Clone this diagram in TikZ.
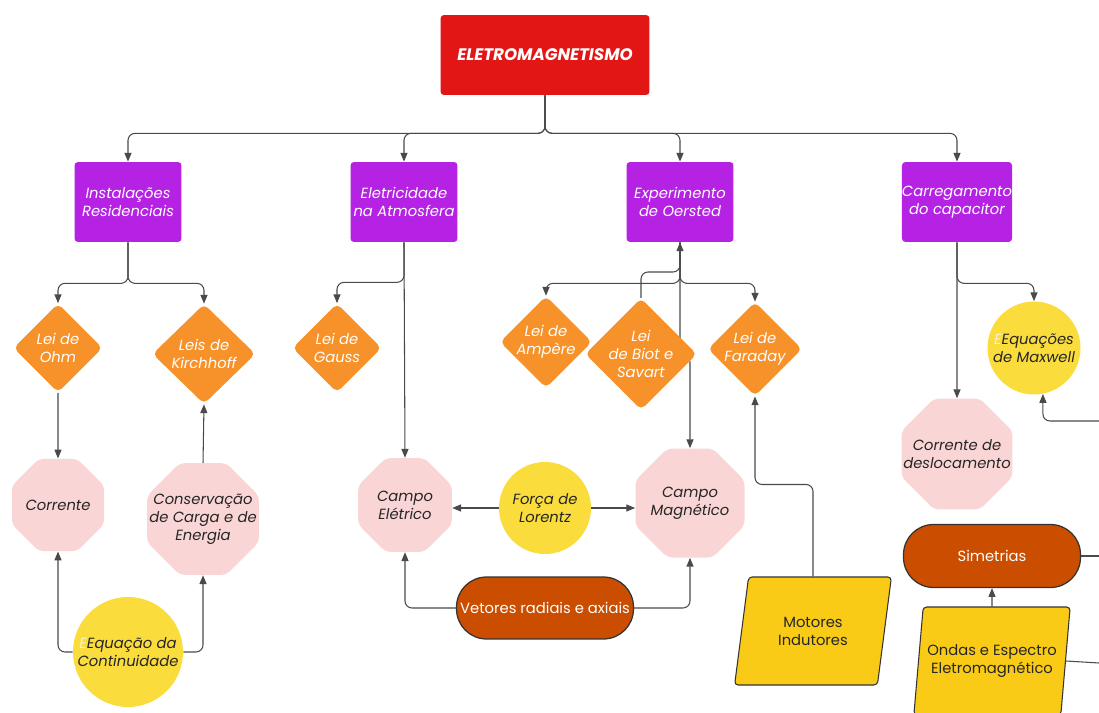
\documentclass[tikz,border=0pt]{standalone}
\usepackage{fontspec}
\setmainfont{Poppins}
\usepackage{xcolor}
\usetikzlibrary{shapes.geometric,shapes.misc,arrows.meta,backgrounds}

\definecolor{rootred}{HTML}{E31616}
\definecolor{topicpurple}{HTML}{B522E4}
\definecolor{laworange}{HTML}{F7922A}
\definecolor{fieldpink}{HTML}{FAD5D6}
\definecolor{eqyellow}{HTML}{FADC3C}
\definecolor{pillrust}{HTML}{CB4D00}
\definecolor{appyellow}{HTML}{F9CB17}
\definecolor{linegray}{HTML}{4A4A4A}
\definecolor{ghostE}{HTML}{FBF3C8}

\tikzset{
  base/.style={inner sep=0pt, align=center, font=\fontsize{8.4}{10.2}\selectfont\itshape},
  rootbox/.style={base, rectangle, rounded corners=2pt, fill=rootred, text=white,
    minimum width=4.18cm, minimum height=1.6cm, font=\fontsize{9.5}{11}\selectfont\bfseries\itshape},
  topicbox/.style={base, rectangle, rounded corners=2pt, fill=topicpurple, text=white,
    minimum width=2.14cm, minimum height=1.6cm},
  lawdiam/.style={base, diamond, rounded corners=3pt, fill=laworange, text=white},
  fieldoct/.style={base, regular polygon, regular polygon sides=8, rounded corners=3pt,
    inner sep=-1cm, fill=fieldpink, text=black!85},
  eqcirc/.style={base, circle, fill=eqyellow, text=black!85},
  vecpill/.style={base, rectangle, rounded corners=0.6cm, fill=pillrust, draw=black!80,
    line width=0.7pt, text=white, minimum width=3.54cm, minimum height=1.24cm,
    font=\fontsize{8.4}{10.2}\selectfont},
  appbox/.style={base, trapezium, trapezium left angle=75, trapezium right angle=105,
    trapezium stretches=true, rounded corners=2pt, fill=appyellow, draw=black!80,
    line width=0.6pt, text=black!85, minimum width=3.14cm, minimum height=2.16cm,
    font=\fontsize{8.4}{10.2}\selectfont},
  conn/.style={draw=linegray, line width=0.6pt, rounded corners=4pt,
    -{Triangle[length=5pt,width=4pt]}},
  link/.style={draw=linegray, line width=0.6pt, rounded corners=4pt},
}

\begin{document}
\begin{tikzpicture}[x=0.02cm, y=-0.02cm]
\useasboundingbox (0,0) rectangle (1099,713);
\clip (0,0) rectangle (1099,713);

% topo e temas
\node[rootbox] (eletro) at (545,55) {ELETROMAGNETISMO};
\node[topicbox] (instal) at (128,202) {Instalações\\Residenciais};
\node[topicbox] (atmos) at (404,202) {Eletricidade\\na Atmosfera};
\node[topicbox] (oersted) at (680,202) {Experimento\\de Oersted};
\node[topicbox] (capac) at (957,202) {Carregamento\\do capacitor};

% leis
\node[lawdiam, minimum width=1.78cm, minimum height=1.78cm] (ohm) at (58,348) {Lei de\\Ohm};
\node[lawdiam, minimum width=2.06cm, minimum height=2.0cm] (kirch) at (204,354) {Leis de\\Kirchhoff};
\node[lawdiam, minimum width=1.78cm, minimum height=1.78cm] (gauss) at (337,348) {Lei de\\Gauss};
\node[lawdiam, minimum width=1.76cm, minimum height=1.78cm] (ampere) at (546,342) {Lei de\\Ampère};
\node[lawdiam, minimum width=2.12cm, minimum height=2.0cm] (biot) at (641,354) {Lei\\de Biot e\\Savart};
\node[lawdiam, minimum width=1.78cm, minimum height=1.8cm] (faraday) at (755,349) {Lei de\\Faraday};

% grandezas
\node[fieldoct, minimum size=2.0cm] (corrente) at (58,505) {Corrente};
\node[fieldoct, minimum size=2.42cm] (conserv) at (203,519) {Conservação\\de Carga e de\\Energia};
\node[fieldoct, minimum size=2.03cm] (campoE) at (405,505) {Campo\\Elétrico};
\node[fieldoct, minimum size=2.36cm] (campoM) at (690,503) {Campo\\Magnético};
\node[fieldoct, minimum size=2.4cm] (desloc) at (957,454) {Corrente de\\deslocamento};

% equacoes
\node[eqcirc, minimum size=2.2cm] (contin) at (128,652) {{\color{ghostE}E}Equação da\\Continuidade};
\node[eqcirc, minimum size=1.84cm] (lorentz) at (545,508) {Força de\\Lorentz};
\node[eqcirc, minimum size=1.86cm] (maxwell) at (1034,348) {{\color{ghostE}E}Equações\\de Maxwell};

% pilulas e aplicacoes
\node[vecpill] (vetores) at (545,608) {Vetores radiais e axiais};
\node[vecpill, minimum height=1.26cm] (simetrias) at (992,556) {Simetrias};
\node[appbox] (motores) at (813,631) {Motores\\Indutores};
\node[appbox] (ondas) at (992,661) {Ondas e Espectro\\Eletromagnético};

\coordinate (jbiot) at (680,272);
\coordinate (offA) at (1099,421);
\coordinate (offB) at (1099,556);
\coordinate (offC) at (1099,663);

\begin{scope}[on background layer]
\foreach \t in {instal,atmos,oersted,capac}
  \draw[conn] (eletro.south) -- ++(0,38) -| (\t.north);
\draw[conn] (instal.south) -- ++(0,41) -| (ohm.north);
\draw[conn] (instal.south) -- ++(0,41) -| (kirch.north);
\draw[conn] (atmos.south) -- ++(0,40) -| (gauss.north);
\draw[conn] (atmos.south) -- (campoE.north);
\draw[conn] (oersted.south) -- ++(0,41) -| (ampere.north);
\draw[conn] (oersted.south) -- ++(0,41) -| (faraday.north);
\draw[conn] (oersted.south) -- ++(0,113) -| (campoM.north);
\draw[conn] (biot.north) |- (jbiot) -- (oersted.south);
\draw[conn] (capac.south) -- (desloc.north);
\draw[conn] (capac.south) -- ++(0,41) -| (maxwell.north);

\draw[conn] (ohm.south) -- (corrente.north);
\draw[conn] (contin.west) -| (corrente.south);
\draw[conn] (contin.east) -| (conserv.south);
\draw[conn] (conserv.north) -- (kirch.south);

\draw[conn] (lorentz.west) -- (lorentz.west -| campoE.east);
\draw[conn] (lorentz.east) -- (lorentz.east -| campoM.west);
\draw[conn] (vetores.west) -| (campoE.south);
\draw[conn] (vetores.east) -| (campoM.south);
\draw[conn] (motores.north) -- ++(0,-92) -| (faraday.south);

\draw[conn] (offA) -| (maxwell.-79);
\draw[conn] (ondas.north) -- (simetrias.south);
\draw[link] (simetrias.east) -- (offB);
\draw[link] (ondas.east) -- (offC);
\end{scope}
\end{tikzpicture}
\end{document}
